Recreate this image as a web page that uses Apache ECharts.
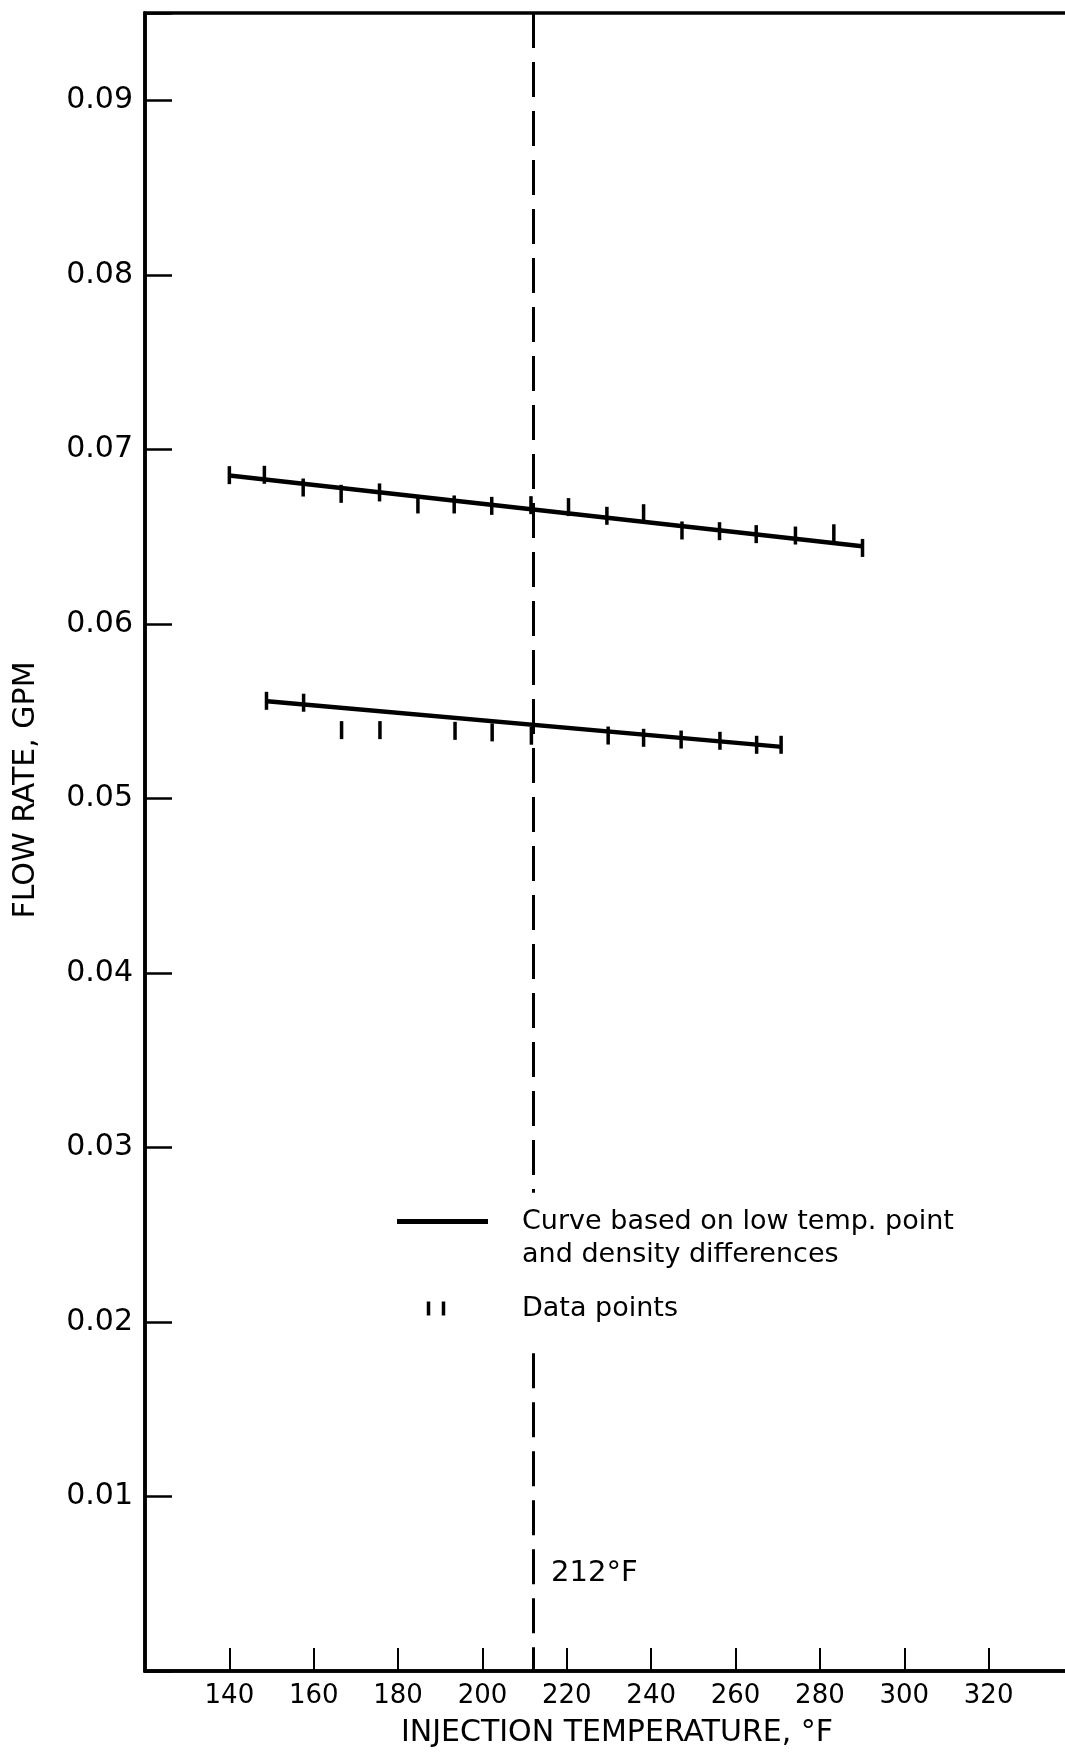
<!DOCTYPE html>
<html>
<head>
<meta charset="utf-8">
<title>Flow rate vs injection temperature</title>
<script src="https://cdn.jsdelivr.net/npm/echarts@6/dist/echarts.min.js"></script>
<style>
  html, body { margin: 0; padding: 0; background: #fff; }
  #chart { width: 1065px; height: 1753px; }
</style>
</head>
<body>
<div id="chart"></div>
<script>
// fitted curves (end points, deg F / gpm)
const upperCurveT = [140, 290];
const upperCurveQ = [0.0685, 0.06445];
const lowerCurveT = [149, 271];
const lowerCurveQ = [0.05557, 0.05295];

// data points
const upperPointT = [140, 148.3, 157.5, 166.5, 175.6, 184.7, 193.3, 202.2, 211.5, 220.4, 229.5, 238.2, 247.3, 256.2, 264.9, 274.2, 283.3, 290.1];
const upperPointQ = [0.06852, 0.06854, 0.06781, 0.06745, 0.06753, 0.06684, 0.06684, 0.06676, 0.0668, 0.06669, 0.06619, 0.06634, 0.06535, 0.06531, 0.06514, 0.06506, 0.06519, 0.06435];
const lowerPointT = [148.8, 157.6, 166.6, 175.7, 193.5, 202.3, 211.6, 229.8, 238.2, 247.1, 256.3, 265, 270.8];
const lowerPointQ = [0.05559, 0.05548, 0.05391, 0.05391, 0.05387, 0.05378, 0.05359, 0.0536, 0.05347, 0.05337, 0.0533, 0.05307, 0.05307];

// boiling point reference line
const boilT = 212;
const boilLabelQ = 0.0056;
const boilGap = [0.0274, 0.0182]; // line is broken behind the legend

const xTickLabels = [140, 160, 180, 200, 220, 240, 260, 280, 300, 320];
const yTickLabels = [0.01, 0.02, 0.03, 0.04, 0.05, 0.06, 0.07, 0.08, 0.09];

const CURVE = 'Curve based on low temp. point\nand density differences';
const POINTS = 'Data points';
const FONT = 'DejaVu Sans';
const INK = '#000';

const zip = (a, b) => a.map((v, i) => [v, b[i]]);

const chart = echarts.init(document.getElementById('chart'), null, { renderer: 'canvas' });

const option = {
  animation: false,
  backgroundColor: '#fff',
  textStyle: { fontFamily: FONT, color: INK },
  // plot runs off the right edge of the page, so the right border is cut away
  grid: {
    left: 145, width: 928, top: 13, bottom: 82,
    outerBoundsMode: 'none',
    containLabel: false,
    show: true, borderColor: INK, borderWidth: 3.5, backgroundColor: 'transparent'
  },
  legend: {
    orient: 'vertical',
    left: 397,
    top: 1172,
    padding: 0,
    itemGap: 21,
    itemWidth: 91,
    itemHeight: 14,
    selectedMode: false,
    // blank first line keeps the icon level with the first text line
    formatter: (name) => (name === CURVE ? '\n' + name : name),
    textStyle: { fontFamily: FONT, fontSize: 27, color: INK, lineHeight: 33, padding: [0, 0, 0, 29] },
    data: [
      { name: CURVE, icon: 'path://M0 0H91V5H0Z' },
      { name: POINTS, icon: 'path://M0 0h3.5v14h-3.5Z M15 0h3.5v14h-3.5Z M31.5 7' }
    ]
  },
  xAxis: {
    type: 'value',
    min: 120,
    max: 340,
    interval: 20,
    name: 'INJECTION TEMPERATURE, °F',
    nameLocation: 'middle',
    nameGap: 47,
    nameTextStyle: { fontFamily: FONT, fontSize: 30, color: INK, padding: [0, 0, 0, 16] },
    axisLine: { lineStyle: { color: INK, width: 3.5 } },
    axisTick: { inside: true, length: 23, lineStyle: { color: INK, width: 2 } },
    axisLabel: {
      margin: 12,
      fontSize: 26,
      color: INK,
      formatter: (v) => (xTickLabels.includes(v) ? String(v) : '')
    },
    splitLine: { show: false }
  },
  yAxis: {
    type: 'value',
    min: 0,
    max: 0.095,
    interval: 0.01,
    name: 'FLOW RATE, GPM',
    nameLocation: 'middle',
    nameGap: 104,
    nameTextStyle: { fontFamily: FONT, fontSize: 30, color: INK, padding: [0, 0, 0, 104] },
    axisLine: { lineStyle: { color: INK, width: 3.5 } },
    axisTick: { inside: true, length: 27, lineStyle: { color: INK, width: 2.5 } },
    axisLabel: {
      margin: 12,
      fontSize: 30,
      color: INK,
      formatter: (v) => {
        const hit = yTickLabels.find((t) => Math.abs(t - v) < 1e-6);
        return hit ? hit.toFixed(2) : '';
      }
    },
    splitLine: { show: false }
  },
  series: [
    {
      name: CURVE,
      type: 'line',
      data: zip(upperCurveT, upperCurveQ),
      symbol: 'none',
      lineStyle: { color: INK, width: 4.5 },
      itemStyle: { color: INK },
      z: 2,
      markLine: {
        silent: true,
        symbol: ['none', 'none'],
        label: { show: false },
        lineStyle: { color: INK, width: 3, type: [35, 14] },
        data: [
          [{ coord: [boilT, 0.095] }, { coord: [boilT, boilGap[0]] }],
          [{ coord: [boilT, boilGap[1]] }, { coord: [boilT, 0] }]
        ]
      },
      markPoint: {
        silent: true,
        symbolSize: 0,
        label: {
          show: true,
          position: 'right',
          distance: 18,
          fontFamily: FONT,
          fontSize: 29,
          color: INK,
          formatter: boilT + '°F'
        },
        data: [{ coord: [boilT, boilLabelQ] }]
      }
    },
    {
      name: CURVE,
      type: 'line',
      data: zip(lowerCurveT, lowerCurveQ),
      symbol: 'none',
      lineStyle: { color: INK, width: 4.5 },
      itemStyle: { color: INK },
      z: 2
    },
    {
      name: POINTS,
      type: 'scatter',
      data: zip(upperPointT, upperPointQ).concat(zip(lowerPointT, lowerPointQ)),
      symbol: 'rect',
      symbolSize: [3.5, 18],
      itemStyle: { color: INK, opacity: 1 },
      z: 3
    }
  ]
};

chart.setOption(option);
</script>
</body>
</html>
